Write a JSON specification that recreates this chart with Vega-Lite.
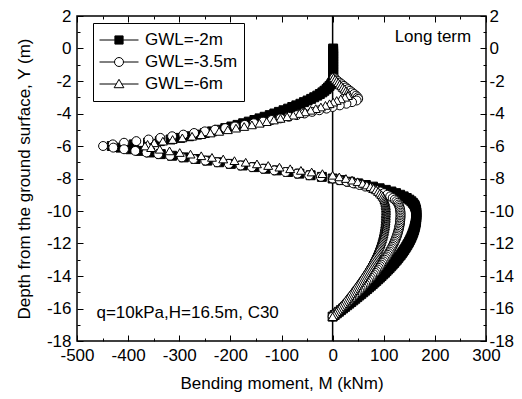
{
"$schema":"https://vega.github.io/schema/vega-lite/v6.json",
"width":409,"height":325,
"autosize":{"type":"none"},
"padding":{"left":77,"top":16,"right":36,"bottom":58},
"background":"white",
"config":{
"font":"Liberation Sans",
"view":{"stroke":"black","strokeWidth":1.5},
"axis":{"grid":false,"domain":false,"ticks":true,"tickColor":"black","tickWidth":1,"labelFont":"Liberation Sans","labelFontSize":17,"labelColor":"black","titleFont":"Liberation Sans","titleFontSize":17,"titleFontWeight":"normal","titleColor":"black","labelFlush":false,"labelOverlap":false,"labelExpr":"'' + datum.value"}
},
"resolve":{"axis":{"x":"independent","y":"independent"},"scale":{"shape":"independent","fill":"independent","stroke":"independent"}},
"layer":[
{"data":{"values":[{}]},
"mark":{"type":"rule","color":"black","strokeWidth":1.5},
"encoding":{
"x":{"datum":0,"type":"quantitative","scale":{"domain":[-500,300],"nice":false,"zero":false},"axis":{"orient":"top","values":[-500,-400,-300,-200,-100,0,100,200,300],"labels":false,"title":null,"tickSize":-6}},
"y":{"datum":-18,"type":"quantitative","scale":{"domain":[-18,2],"nice":false,"zero":false},"axis":{"orient":"right","values":[-18,-16,-14,-12,-10,-8,-6,-4,-2,0,2],"labelPadding":9,"title":null,"tickSize":-6}},
"y2":{"datum":2}}},
{"data":{"values":[
{"s":"a","y":0,"m":1},{"s":"a","y":-0.1,"m":1},{"s":"a","y":-0.2,"m":1},{"s":"a","y":-0.3,"m":1},{"s":"a","y":-0.4,"m":1},{"s":"a","y":-0.5,"m":1},{"s":"a","y":-0.6,"m":1},{"s":"a","y":-0.7,"m":1},{"s":"a","y":-0.8,"m":1},{"s":"a","y":-0.9,"m":1},{"s":"a","y":-1.0,"m":1},{"s":"a","y":-1.1,"m":1},{"s":"a","y":-1.2,"m":1},{"s":"a","y":-1.3,"m":1},{"s":"a","y":-1.4,"m":1},{"s":"a","y":-1.5,"m":1},{"s":"a","y":-1.6,"m":1},{"s":"a","y":-1.7,"m":1},{"s":"a","y":-1.8,"m":1},{"s":"a","y":-1.9,"m":1},{"s":"a","y":-2.0,"m":1},
{"s":"a","y":-2.1,"m":-1},{"s":"a","y":-2.2,"m":-3},{"s":"a","y":-2.3,"m":-6},{"s":"a","y":-2.4,"m":-9},{"s":"a","y":-2.5,"m":-12},{"s":"a","y":-2.6,"m":-16},{"s":"a","y":-2.7,"m":-20},{"s":"a","y":-2.8,"m":-25},{"s":"a","y":-2.9,"m":-30},{"s":"a","y":-3.0,"m":-36},{"s":"a","y":-3.1,"m":-42},{"s":"a","y":-3.2,"m":-49},{"s":"a","y":-3.3,"m":-56},{"s":"a","y":-3.4,"m":-63},{"s":"a","y":-3.5,"m":-71},{"s":"a","y":-3.6,"m":-79},{"s":"a","y":-3.7,"m":-87},{"s":"a","y":-3.8,"m":-96},{"s":"a","y":-3.9,"m":-105},{"s":"a","y":-4.0,"m":-114},{"s":"a","y":-4.1,"m":-123},{"s":"a","y":-4.2,"m":-133},{"s":"a","y":-4.3,"m":-143},{"s":"a","y":-4.4,"m":-153},{"s":"a","y":-4.5,"m":-164},{"s":"a","y":-4.6,"m":-175},{"s":"a","y":-4.7,"m":-186},{"s":"a","y":-4.8,"m":-198},{"s":"a","y":-4.9,"m":-210},{"s":"a","y":-5.0,"m":-223},{"s":"a","y":-5.1,"m":-236},{"s":"a","y":-5.2,"m":-250},{"s":"a","y":-5.3,"m":-265},{"s":"a","y":-5.4,"m":-281},{"s":"a","y":-5.5,"m":-298},{"s":"a","y":-5.6,"m":-317},{"s":"a","y":-5.7,"m":-338},{"s":"a","y":-5.8,"m":-361},{"s":"a","y":-5.9,"m":-389},{"s":"a","y":-6.0,"m":-432},
{"s":"a","y":-6.1,"m":-415},{"s":"a","y":-6.2,"m":-396},{"s":"a","y":-6.3,"m":-377},{"s":"a","y":-6.4,"m":-357},{"s":"a","y":-6.5,"m":-336},{"s":"a","y":-6.6,"m":-314},{"s":"a","y":-6.7,"m":-291},{"s":"a","y":-6.8,"m":-268},{"s":"a","y":-6.9,"m":-245},{"s":"a","y":-7.0,"m":-222},{"s":"a","y":-7.1,"m":-199},{"s":"a","y":-7.2,"m":-176},{"s":"a","y":-7.3,"m":-153},{"s":"a","y":-7.4,"m":-131},{"s":"a","y":-7.5,"m":-109},{"s":"a","y":-7.6,"m":-87},{"s":"a","y":-7.7,"m":-65},{"s":"a","y":-7.8,"m":-43},{"s":"a","y":-7.9,"m":-21},{"s":"a","y":-8.0,"m":0},
{"s":"a","y":-8.1,"m":17},{"s":"a","y":-8.2,"m":34},{"s":"a","y":-8.3,"m":50},{"s":"a","y":-8.4,"m":65},{"s":"a","y":-8.5,"m":79},{"s":"a","y":-8.6,"m":92},{"s":"a","y":-8.7,"m":104},{"s":"a","y":-8.8,"m":115},{"s":"a","y":-8.9,"m":124},{"s":"a","y":-9.0,"m":132},{"s":"a","y":-9.1,"m":139},{"s":"a","y":-9.2,"m":145},{"s":"a","y":-9.3,"m":150},{"s":"a","y":-9.4,"m":154},{"s":"a","y":-9.5,"m":157},{"s":"a","y":-9.6,"m":159.5},{"s":"a","y":-9.7,"m":161},{"s":"a","y":-9.8,"m":162},{"s":"a","y":-9.9,"m":163},{"s":"a","y":-10.0,"m":163.5},{"s":"a","y":-10.1,"m":164},
{"s":"a","y":-10.2,"m":164},{"s":"a","y":-10.3,"m":163.9},{"s":"a","y":-10.4,"m":163.8},{"s":"a","y":-10.5,"m":163.5},{"s":"a","y":-10.6,"m":163.2},{"s":"a","y":-10.7,"m":162.7},{"s":"a","y":-10.8,"m":162.2},{"s":"a","y":-10.9,"m":161.5},{"s":"a","y":-11.0,"m":160.7},{"s":"a","y":-11.1,"m":159.9},{"s":"a","y":-11.2,"m":158.9},{"s":"a","y":-11.3,"m":157.9},{"s":"a","y":-11.4,"m":156.7},{"s":"a","y":-11.5,"m":155.5},{"s":"a","y":-11.6,"m":154.1},{"s":"a","y":-11.7,"m":152.7},{"s":"a","y":-11.8,"m":151.1},{"s":"a","y":-11.9,"m":149.5},{"s":"a","y":-12.0,"m":147.8},{"s":"a","y":-12.1,"m":145.9},{"s":"a","y":-12.2,"m":144},{"s":"a","y":-12.3,"m":142},{"s":"a","y":-12.4,"m":139.9},{"s":"a","y":-12.5,"m":137.8},{"s":"a","y":-12.6,"m":135.5},{"s":"a","y":-12.7,"m":133.2},{"s":"a","y":-12.8,"m":130.7},{"s":"a","y":-12.9,"m":128.2},{"s":"a","y":-13.0,"m":125.6},{"s":"a","y":-13.1,"m":123},{"s":"a","y":-13.2,"m":120.2},{"s":"a","y":-13.3,"m":117.4},{"s":"a","y":-13.4,"m":114.5},{"s":"a","y":-13.5,"m":111.5},{"s":"a","y":-13.6,"m":108.5},{"s":"a","y":-13.7,"m":105.4},{"s":"a","y":-13.8,"m":102.3},{"s":"a","y":-13.9,"m":99},{"s":"a","y":-14.0,"m":95.7},{"s":"a","y":-14.1,"m":92.4},{"s":"a","y":-14.2,"m":89},{"s":"a","y":-14.3,"m":85.5},{"s":"a","y":-14.4,"m":82},{"s":"a","y":-14.5,"m":78.4},{"s":"a","y":-14.6,"m":74.8},{"s":"a","y":-14.7,"m":71.2},{"s":"a","y":-14.8,"m":67.5},{"s":"a","y":-14.9,"m":63.7},{"s":"a","y":-15.0,"m":59.9},{"s":"a","y":-15.1,"m":56.1},{"s":"a","y":-15.2,"m":52.2},{"s":"a","y":-15.3,"m":48.3},{"s":"a","y":-15.4,"m":44.4},{"s":"a","y":-15.5,"m":40.5},{"s":"a","y":-15.6,"m":36.5},{"s":"a","y":-15.7,"m":32.5},{"s":"a","y":-15.8,"m":28.5},{"s":"a","y":-15.9,"m":24.4},{"s":"a","y":-16.0,"m":20.4},{"s":"a","y":-16.1,"m":16.3},{"s":"a","y":-16.2,"m":12.3},{"s":"a","y":-16.3,"m":8.2},{"s":"a","y":-16.4,"m":4.1},{"s":"a","y":-16.5,"m":0},
{"s":"b","y":-1.8,"m":3},{"s":"b","y":-1.9,"m":6},{"s":"b","y":-2.0,"m":10},{"s":"b","y":-2.1,"m":14},{"s":"b","y":-2.2,"m":18},{"s":"b","y":-2.3,"m":22},{"s":"b","y":-2.4,"m":26},{"s":"b","y":-2.5,"m":30},{"s":"b","y":-2.6,"m":34},{"s":"b","y":-2.7,"m":38},{"s":"b","y":-2.8,"m":42},{"s":"b","y":-2.9,"m":46},{"s":"b","y":-3.0,"m":49},{"s":"b","y":-3.1,"m":50},{"s":"b","y":-3.2,"m":47},{"s":"b","y":-3.3,"m":38},{"s":"b","y":-3.4,"m":27},{"s":"b","y":-3.5,"m":14},{"s":"b","y":-3.6,"m":0},
{"s":"b","y":-3.7,"m":-12},{"s":"b","y":-3.8,"m":-26},{"s":"b","y":-3.9,"m":-40},{"s":"b","y":-4.0,"m":-55},{"s":"b","y":-4.1,"m":-70},{"s":"b","y":-4.2,"m":-86},{"s":"b","y":-4.3,"m":-102},{"s":"b","y":-4.4,"m":-119},{"s":"b","y":-4.5,"m":-136},{"s":"b","y":-4.6,"m":-154},{"s":"b","y":-4.7,"m":-172},{"s":"b","y":-4.8,"m":-191},{"s":"b","y":-4.9,"m":-210},{"s":"b","y":-5.0,"m":-230},{"s":"b","y":-5.1,"m":-250},{"s":"b","y":-5.2,"m":-271},{"s":"b","y":-5.3,"m":-292},{"s":"b","y":-5.4,"m":-314},{"s":"b","y":-5.5,"m":-337},{"s":"b","y":-5.6,"m":-360},{"s":"b","y":-5.7,"m":-384},{"s":"b","y":-5.8,"m":-408},{"s":"b","y":-5.9,"m":-430},{"s":"b","y":-6.0,"m":-449},
{"s":"b","y":-6.1,"m":-429},{"s":"b","y":-6.2,"m":-408},{"s":"b","y":-6.3,"m":-386},{"s":"b","y":-6.4,"m":-364},{"s":"b","y":-6.5,"m":-341},{"s":"b","y":-6.6,"m":-318},{"s":"b","y":-6.7,"m":-295},{"s":"b","y":-6.8,"m":-272},{"s":"b","y":-6.9,"m":-249},{"s":"b","y":-7.0,"m":-226},{"s":"b","y":-7.1,"m":-203},{"s":"b","y":-7.2,"m":-180},{"s":"b","y":-7.3,"m":-158},{"s":"b","y":-7.4,"m":-136},{"s":"b","y":-7.5,"m":-114},{"s":"b","y":-7.6,"m":-92},{"s":"b","y":-7.7,"m":-69},{"s":"b","y":-7.8,"m":-46},{"s":"b","y":-7.9,"m":-23},{"s":"b","y":-8.0,"m":0},
{"s":"b","y":-8.1,"m":13.8},{"s":"b","y":-8.2,"m":27.5},{"s":"b","y":-8.3,"m":40.5},{"s":"b","y":-8.4,"m":52.7},{"s":"b","y":-8.5,"m":64},{"s":"b","y":-8.6,"m":74.5},{"s":"b","y":-8.7,"m":84.2},{"s":"b","y":-8.8,"m":93.2},{"s":"b","y":-8.9,"m":100.4},{"s":"b","y":-9.0,"m":106.9},{"s":"b","y":-9.1,"m":112.6},{"s":"b","y":-9.2,"m":117.5},{"s":"b","y":-9.3,"m":121.5},{"s":"b","y":-9.4,"m":124.7},{"s":"b","y":-9.5,"m":127.2},{"s":"b","y":-9.6,"m":129.2},{"s":"b","y":-9.7,"m":130.4},{"s":"b","y":-9.8,"m":131.2},{"s":"b","y":-9.9,"m":132},{"s":"b","y":-10.0,"m":132.4},{"s":"b","y":-10.1,"m":132.8},
{"s":"b","y":-10.2,"m":132.8},{"s":"b","y":-10.3,"m":132.8},{"s":"b","y":-10.4,"m":132.7},{"s":"b","y":-10.5,"m":132.4},{"s":"b","y":-10.6,"m":132.2},{"s":"b","y":-10.7,"m":131.8},{"s":"b","y":-10.8,"m":131.4},{"s":"b","y":-10.9,"m":130.8},{"s":"b","y":-11.0,"m":130.2},{"s":"b","y":-11.1,"m":129.5},{"s":"b","y":-11.2,"m":128.7},{"s":"b","y":-11.3,"m":127.9},{"s":"b","y":-11.4,"m":126.9},{"s":"b","y":-11.5,"m":126},{"s":"b","y":-11.6,"m":124.8},{"s":"b","y":-11.7,"m":123.7},{"s":"b","y":-11.8,"m":122.4},{"s":"b","y":-11.9,"m":121.1},{"s":"b","y":-12.0,"m":119.7},{"s":"b","y":-12.1,"m":118.2},{"s":"b","y":-12.2,"m":116.6},{"s":"b","y":-12.3,"m":115},{"s":"b","y":-12.4,"m":113.3},{"s":"b","y":-12.5,"m":111.6},{"s":"b","y":-12.6,"m":109.8},{"s":"b","y":-12.7,"m":107.9},{"s":"b","y":-12.8,"m":105.9},{"s":"b","y":-12.9,"m":103.8},{"s":"b","y":-13.0,"m":101.7},{"s":"b","y":-13.1,"m":99.6},{"s":"b","y":-13.2,"m":97.4},{"s":"b","y":-13.3,"m":95.1},{"s":"b","y":-13.4,"m":92.7},{"s":"b","y":-13.5,"m":90.3},{"s":"b","y":-13.6,"m":87.9},{"s":"b","y":-13.7,"m":85.4},{"s":"b","y":-13.8,"m":82.9},{"s":"b","y":-13.9,"m":80.2},{"s":"b","y":-14.0,"m":77.5},{"s":"b","y":-14.1,"m":74.8},{"s":"b","y":-14.2,"m":72.1},{"s":"b","y":-14.3,"m":69.3},{"s":"b","y":-14.4,"m":66.4},{"s":"b","y":-14.5,"m":63.5},{"s":"b","y":-14.6,"m":60.6},{"s":"b","y":-14.7,"m":57.7},{"s":"b","y":-14.8,"m":54.7},{"s":"b","y":-14.9,"m":51.6},{"s":"b","y":-15.0,"m":48.5},{"s":"b","y":-15.1,"m":45.4},{"s":"b","y":-15.2,"m":42.3},{"s":"b","y":-15.3,"m":39.1},{"s":"b","y":-15.4,"m":36},{"s":"b","y":-15.5,"m":32.8},{"s":"b","y":-15.6,"m":29.6},{"s":"b","y":-15.7,"m":26.3},{"s":"b","y":-15.8,"m":23.1},{"s":"b","y":-15.9,"m":19.8},{"s":"b","y":-16.0,"m":16.5},{"s":"b","y":-16.1,"m":13.2},{"s":"b","y":-16.2,"m":10},{"s":"b","y":-16.3,"m":6.6},{"s":"b","y":-16.4,"m":3.3},{"s":"b","y":-16.5,"m":0},
{"s":"c","y":-1.8,"m":2},{"s":"c","y":-1.9,"m":5},{"s":"c","y":-2.0,"m":8},{"s":"c","y":-2.1,"m":11},{"s":"c","y":-2.2,"m":14},{"s":"c","y":-2.3,"m":17},{"s":"c","y":-2.4,"m":20},{"s":"c","y":-2.5,"m":23},{"s":"c","y":-2.6,"m":26},{"s":"c","y":-2.7,"m":29},{"s":"c","y":-2.8,"m":31},{"s":"c","y":-2.9,"m":30},{"s":"c","y":-3.0,"m":24},{"s":"c","y":-3.1,"m":16},{"s":"c","y":-3.2,"m":8},{"s":"c","y":-3.3,"m":1},
{"s":"c","y":-3.4,"m":-6},{"s":"c","y":-3.5,"m":-14},{"s":"c","y":-3.6,"m":-23},{"s":"c","y":-3.7,"m":-33},{"s":"c","y":-3.8,"m":-43},{"s":"c","y":-3.9,"m":-54},{"s":"c","y":-4.0,"m":-65},{"s":"c","y":-4.1,"m":-77},{"s":"c","y":-4.2,"m":-89},{"s":"c","y":-4.3,"m":-102},{"s":"c","y":-4.4,"m":-115},{"s":"c","y":-4.5,"m":-129},{"s":"c","y":-4.6,"m":-143},{"s":"c","y":-4.7,"m":-158},{"s":"c","y":-4.8,"m":-173},{"s":"c","y":-4.9,"m":-189},{"s":"c","y":-5.0,"m":-205},{"s":"c","y":-5.1,"m":-222},{"s":"c","y":-5.2,"m":-239},{"s":"c","y":-5.3,"m":-257},{"s":"c","y":-5.4,"m":-275},{"s":"c","y":-5.5,"m":-294},{"s":"c","y":-5.6,"m":-313},{"s":"c","y":-5.7,"m":-332},{"s":"c","y":-5.8,"m":-349},{"s":"c","y":-5.9,"m":-362},{"s":"c","y":-6.0,"m":-367},
{"s":"c","y":-6.1,"m":-355},{"s":"c","y":-6.2,"m":-338},{"s":"c","y":-6.3,"m":-319},{"s":"c","y":-6.4,"m":-299},{"s":"c","y":-6.5,"m":-278},{"s":"c","y":-6.6,"m":-257},{"s":"c","y":-6.7,"m":-236},{"s":"c","y":-6.8,"m":-214},{"s":"c","y":-6.9,"m":-192},{"s":"c","y":-7.0,"m":-170},{"s":"c","y":-7.1,"m":-148},{"s":"c","y":-7.2,"m":-126},{"s":"c","y":-7.3,"m":-104},{"s":"c","y":-7.4,"m":-83},{"s":"c","y":-7.5,"m":-62},{"s":"c","y":-7.6,"m":-41},{"s":"c","y":-7.7,"m":-20},{"s":"c","y":-7.8,"m":0},
{"s":"c","y":-7.9,"m":13},{"s":"c","y":-8.0,"m":26},{"s":"c","y":-8.1,"m":38},{"s":"c","y":-8.2,"m":49},{"s":"c","y":-8.3,"m":59},{"s":"c","y":-8.4,"m":67},{"s":"c","y":-8.5,"m":74},{"s":"c","y":-8.6,"m":80},{"s":"c","y":-8.7,"m":85},{"s":"c","y":-8.8,"m":89},{"s":"c","y":-8.9,"m":92.5},{"s":"c","y":-9.0,"m":95.5},{"s":"c","y":-9.1,"m":98},{"s":"c","y":-9.2,"m":100},{"s":"c","y":-9.3,"m":101.5},{"s":"c","y":-9.4,"m":102.5},{"s":"c","y":-9.5,"m":103.3},{"s":"c","y":-9.6,"m":103.8},{"s":"c","y":-9.7,"m":104.1},{"s":"c","y":-9.8,"m":104.3},{"s":"c","y":-9.9,"m":104.4},{"s":"c","y":-10.0,"m":104.4},{"s":"c","y":-10.1,"m":104.2},
{"s":"c","y":-10.2,"m":104},{"s":"c","y":-10.3,"m":104},{"s":"c","y":-10.4,"m":103.9},{"s":"c","y":-10.5,"m":103.7},{"s":"c","y":-10.6,"m":103.5},{"s":"c","y":-10.7,"m":103.2},{"s":"c","y":-10.8,"m":102.8},{"s":"c","y":-10.9,"m":102.4},{"s":"c","y":-11.0,"m":101.9},{"s":"c","y":-11.1,"m":101.4},{"s":"c","y":-11.2,"m":100.8},{"s":"c","y":-11.3,"m":100.1},{"s":"c","y":-11.4,"m":99.4},{"s":"c","y":-11.5,"m":98.6},{"s":"c","y":-11.6,"m":97.7},{"s":"c","y":-11.7,"m":96.8},{"s":"c","y":-11.8,"m":95.8},{"s":"c","y":-11.9,"m":94.8},{"s":"c","y":-12.0,"m":93.7},{"s":"c","y":-12.1,"m":92.5},{"s":"c","y":-12.2,"m":91.3},{"s":"c","y":-12.3,"m":90.1},{"s":"c","y":-12.4,"m":88.7},{"s":"c","y":-12.5,"m":87.4},{"s":"c","y":-12.6,"m":85.9},{"s":"c","y":-12.7,"m":84.4},{"s":"c","y":-12.8,"m":82.9},{"s":"c","y":-12.9,"m":81.3},{"s":"c","y":-13.0,"m":79.7},{"s":"c","y":-13.1,"m":78},{"s":"c","y":-13.2,"m":76.2},{"s":"c","y":-13.3,"m":74.5},{"s":"c","y":-13.4,"m":72.6},{"s":"c","y":-13.5,"m":70.7},{"s":"c","y":-13.6,"m":68.8},{"s":"c","y":-13.7,"m":66.8},{"s":"c","y":-13.8,"m":64.8},{"s":"c","y":-13.9,"m":62.8},{"s":"c","y":-14.0,"m":60.7},{"s":"c","y":-14.1,"m":58.6},{"s":"c","y":-14.2,"m":56.4},{"s":"c","y":-14.3,"m":54.2},{"s":"c","y":-14.4,"m":52},{"s":"c","y":-14.5,"m":49.7},{"s":"c","y":-14.6,"m":47.4},{"s":"c","y":-14.7,"m":45.1},{"s":"c","y":-14.8,"m":42.8},{"s":"c","y":-14.9,"m":40.4},{"s":"c","y":-15.0,"m":38},{"s":"c","y":-15.1,"m":35.6},{"s":"c","y":-15.2,"m":33.1},{"s":"c","y":-15.3,"m":30.7},{"s":"c","y":-15.4,"m":28.2},{"s":"c","y":-15.5,"m":25.7},{"s":"c","y":-15.6,"m":23.1},{"s":"c","y":-15.7,"m":20.6},{"s":"c","y":-15.8,"m":18.1},{"s":"c","y":-15.9,"m":15.5},{"s":"c","y":-16.0,"m":12.9},{"s":"c","y":-16.1,"m":10.4},{"s":"c","y":-16.2,"m":7.8},{"s":"c","y":-16.3,"m":5.2},{"s":"c","y":-16.4,"m":2.6},{"s":"c","y":-16.5,"m":0}
]},
"mark":{"type":"point","filled":true,"stroke":"black","strokeWidth":1,"opacity":1,"size":80},
"encoding":{
"x":{"field":"m","type":"quantitative","scale":{"domain":[-500,300],"nice":false,"zero":false},"axis":{"orient":"bottom","values":[-500,-400,-300,-200,-100,0,100,200,300],"tickSize":-6,"labelPadding":12,"title":"Bending moment, M (kNm)","titlePadding":12}},
"y":{"field":"y","type":"quantitative","scale":{"domain":[-18,2],"nice":false,"zero":false},"axis":{"orient":"left","values":[-18,-16,-14,-12,-10,-8,-6,-4,-2,0,2],"tickSize":-6,"labelPadding":12,"title":"Depth from the ground surface, Y (m)","titlePadding":13}},
"fill":{"field":"s","type":"nominal","scale":{"domain":["a","b","c"],"range":["black","white","white"]},"legend":null},
"shape":{"field":"s","type":"nominal","scale":{"domain":["a","b","c"],"range":["square","circle","triangle-up"]},"legend":null}
}},
{"data":{"values":[]},
"mark":{"type":"point","filled":true,"strokeWidth":1,"opacity":1},
"encoding":{
"fill":{"field":"s","type":"nominal","scale":{"domain":["a","b","c"],"range":["black","white","white"]}},
"stroke":{"field":"s","type":"nominal","scale":{"domain":["a","b","c"],"range":["black","black","black"]}},
"shape":{"field":"s","type":"nominal","scale":{"domain":["a","b","c"],"range":["M-1,0H-0.21M0.21,0H1M-0.21,-0.21H0.21V0.21H-0.21Z","M-1,0H-0.23M0.23,0H1M-0.23,0A0.23,0.23,0,1,1,0.23,0A0.23,0.23,0,1,1,-0.23,0Z","M-1,0H-0.14M0.14,0H1M0,-0.24L0.25,0.19L-0.25,0.19Z"]},
"legend":{"orient":"none","legendX":16,"legendY":7,"title":null,
"labelExpr":"datum.value=='a'?'GWL=-2m':datum.value=='b'?'GWL=-3.5m':'GWL=-6m'",
"labelFont":"Liberation Sans","labelFontSize":17,"labelColor":"black","labelOffset":6,
"symbolSize":1521,"clipHeight":22,"rowPadding":0,"padding":6,"strokeColor":"black",
"symbolStrokeWidth":1,"symbolStrokeColor":"black","symbolOpacity":1}}
}},
{"data":{"values":[{}]},
"mark":{"type":"text","text":"Long term","align":"right","baseline":"middle","font":"Liberation Sans","fontSize":17,"color":"black"},
"encoding":{
"x":{"datum":271,"type":"quantitative","scale":{"domain":[-500,300],"nice":false,"zero":false},"axis":{"orient":"bottom","values":[-450,-350,-250,-150,-50,50,150,250],"labels":false,"title":null,"tickSize":-3}},
"y":{"datum":0.73,"type":"quantitative","scale":{"domain":[-18,2],"nice":false,"zero":false},"axis":{"orient":"left","values":[-17,-15,-13,-11,-9,-7,-5,-3,-1,1],"labels":false,"title":null,"tickSize":-3}}}},
{"data":{"values":[{}]},
"mark":{"type":"text","text":"q=10kPa,H=16.5m, C30","align":"left","baseline":"middle","font":"Liberation Sans","fontSize":17,"color":"black"},
"encoding":{
"x":{"datum":-462,"type":"quantitative","scale":{"domain":[-500,300],"nice":false,"zero":false},"axis":{"orient":"top","values":[-450,-350,-250,-150,-50,50,150,250],"labels":false,"title":null,"tickSize":-3}},
"y":{"datum":-16.28,"type":"quantitative","scale":{"domain":[-18,2],"nice":false,"zero":false},"axis":{"orient":"right","values":[-17,-15,-13,-11,-9,-7,-5,-3,-1,1],"labels":false,"title":null,"tickSize":-3}}}}
]
}
